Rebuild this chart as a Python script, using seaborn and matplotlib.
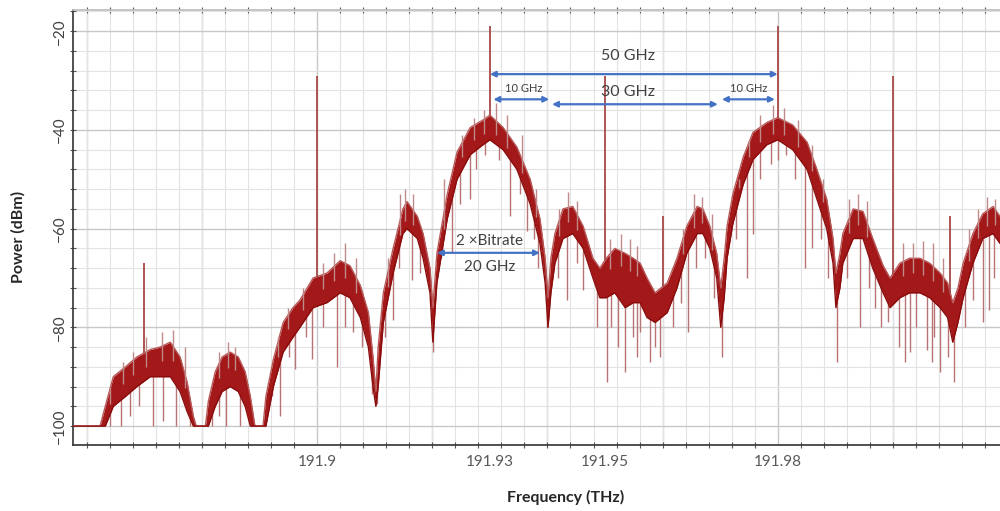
import numpy as np
import pandas as pd
import matplotlib
matplotlib.use("Agg")
import matplotlib.pyplot as plt
from matplotlib.ticker import MultipleLocator
import seaborn as sns

# Optical spectrum of a dual-carrier signal; frequencies are given as
# detuning in GHz from the 191.9 THz reference.
REF_THZ = 191.9

offset_ghz = [-42.4, -37.7, -36.8, -35.4, -33.3, -31.3, -29.0, -27.3, -25.5, -23.8, -22.6, -21.5, -21.0, -19.4,
              -18.9, -17.7, -16.5, -15.1, -13.7, -12.5, -11.6, -10.8, -9.4,
              -8.9, -7.6, -5.9, -4.2, -3.0, -0.7, 1.7, 4.0, 5.7, 7.5, 8.9, 9.7, 10.2,
              10.6, 11.5, 13.2, 14.9, 15.6, 17.4, 18.4, 19.6, 20.1,
              20.8, 22.6, 24.3, 26.6, 28.8, 30.0, 32.3, 34.7, 37.0, 38.7, 39.6, 40.1,
              40.6, 41.3, 42.7, 44.4, 46.2, 47.9, 49.1,
              50.2, 51.7, 53.5, 54.9, 56.1, 57.3,
              58.7, 60.8, 62.5, 64.2, 66.0, 67.0, 68.2, 69.4, 70.1,
              70.7, 71.2, 72.2, 74.0, 75.7, 78.1, 80.0, 82.6, 85.1, 86.8, 88.5, 89.6, 90.1,
              90.8, 91.3, 93.1, 94.8, 96.5, 98.3, 99.5,
              101.2, 102.9, 104.7, 106.4, 108.2, 109.5, 110.4,
              111.3, 112.2, 113.9, 115.6, 117.4, 118.6]

# upper edge of the noisy spectral band (dBm)
band_top_dbm = [-100, -100, -96, -90, -88, -86, -84.5, -84, -83, -86, -91, -98, -100, -100,
                -95, -89, -86, -85, -86, -89, -94, -100, -100,
                -94, -86.5, -79, -76, -74.5, -70, -69, -66.5, -67.5, -71.5, -77, -86, -93,
                -84, -73, -64, -56, -54.5, -57.5, -61, -68, -76,
                -65, -53, -44.5, -39.5, -38, -37, -39.5, -43.5, -50, -58, -66, -74,
                -66, -61, -56, -55.5, -59.5, -66, -68,
                -66, -64, -65, -66, -67, -70,
                -73, -71, -66, -59.5, -55.5, -56, -59.5, -65, -72,
                -66, -59.5, -53, -45.5, -40.5, -38.5, -37.5, -39, -42.5, -48, -54, -62, -69,
                -65, -61, -56, -56.5, -62, -67.5, -70,
                -67, -66, -66, -67, -69, -71, -75,
                -72, -67, -61, -57, -55.5, -57.5]

# lower edge of the noisy spectral band (dBm)
band_floor_dbm = [-100, -100, -100, -96, -94, -92, -90, -90, -90, -93, -97, -100, -100, -100,
                  -100, -96, -93, -92, -93, -96, -100, -100, -100,
                  -100, -92, -85, -82, -80, -76, -75, -73, -74, -78, -84, -92, -96,
                  -92, -79, -69, -61, -60, -62, -66, -73, -83,
                  -71, -58, -50, -45, -43, -42, -44, -48, -55, -63, -71, -80,
                  -73, -67, -62, -61, -64, -70, -74,
                  -74, -73, -76, -75, -75, -78,
                  -79, -77, -72, -65, -61, -61, -64, -70, -80,
                  -74, -66, -59, -51, -46, -43, -42, -44, -48, -54, -60, -67, -76,
                  -72, -67, -62, -62, -68, -73, -76,
                  -74, -73, -73, -74, -76, -78, -83,
                  -79, -74, -67, -62, -61, -63]

# deep spectral notches below the band
notch_offset_ghz = [-35.9, -34.0, -32.5, -31.0, -28.5, -26.7, -24.5, -22.0,
                    -18.2, -17.0, -15.8, -13.4,
                    -7.8, -6.4, -4.8, -3.8, -2.0, -0.9, 1.0, 3.5, 4.8, 6.3, 7.8, 9.5, 10.4,
                    11.8, 13.2, 14.2, 16.5, 17.8, 20.1,
                    21.6, 23.4, 24.8, 26.6, 27.6, 29.2, 31.6, 33.5, 35.2, 36.5, 37.6, 38.4, 39.9,
                    41.8, 43.4, 45.2, 46.2, 48.6,
                    50.3, 51.0, 52.3, 53.5, 54.9, 55.5, 56.1, 57.8, 58.6, 59.5,
                    61.8, 63.2, 64.4, 65.8, 67.4, 69.0, 70.3,
                    72.8, 74.7, 75.7, 77.0, 78.8, 80.0, 81.4, 83.0, 84.7, 85.9, 87.5, 88.8, 90.3,
                    92.0, 94.3, 95.8, 96.9, 98.0, 99.1,
                    101.0, 102.1, 103.0, 104.0, 105.9, 106.8, 107.1, 108.2, 109.5, 110.6,
                    112.6, 113.9, 115.6, 116.7, 117.6]
notch_dbm = [-100, -100, -98, -96, -100, -99, -100, -100,
             -100, -98, -100, -100,
             -94, -98, -86, -88.5, -82, -86.5, -80, -88, -80, -81, -84, -93.5, -95.5,
             -82, -78.5, -68, -70.5, -69, -85,
             -66, -65, -55, -54, -48, -45, -46, -57.5, -53, -60.5, -62, -68, -80,
             -70, -74.5, -67, -72.5, -80,
             -91, -80, -84, -89, -82, -86, -81, -87, -84, -86,
             -80, -75, -81, -68, -66, -74, -86,
             -62, -70, -61, -50, -47, -46, -45, -50, -68, -64, -62, -70, -87,
             -70, -80, -72, -76, -80, -79,
             -84, -87, -85, -80, -84.5, -87, -82, -89, -86, -91,
             -80, -74.5, -79, -76.5, -70]

# short noise spikes rising above the band (dBm)
hair_offset_ghz = [-36.0, -33.8, -32.0, -29.7, -27.0, -25.0, -23.0,
                   -17.0, -15.5, -14.2,
                   -6.8, -5.0, -2.5, 1.0, 3.0, 4.8, 6.8,
                   12.3, 14.4, 15.2, 16.6,
                   22.0, 25.2, 27.2, 29.0, 31.0, 33.0, 35.5, 38.0,
                   42.0, 43.6, 45.2,
                   50.8, 52.8, 54.4, 55.6,
                   63.5, 65.4, 66.8, 68.6,
                   73.2, 75.0, 77.0, 79.2, 81.0, 83.6, 86.0, 87.8,
                   92.4, 94.0, 95.5,
                   101.8, 103.5, 105.2, 107.0, 108.7,
                   113.2, 114.8, 116.3, 117.8]
hair_dbm = [-92, -87, -85, -82, -81, -80.5, -84,
            -85, -83, -84,
            -82, -76, -72, -67, -65, -63, -66,
            -66, -53, -52, -53,
            -50, -41, -37.5, -36, -34.5, -37, -41, -52,
            -56, -52.5, -54.5,
            -62, -61, -62, -63.5,
            -60, -53, -53.5, -57,
            -50, -42, -37, -35, -35.5, -38, -43, -50,
            -54, -53, -54.5,
            -63, -63, -62.5, -63, -66,
            -60, -56, -53.5, -54]

# discrete spectral lines (carriers and tones)
tone_offset_ghz = [-30, 0, 30, 50, 60, 80, 100, 110]
tone_dbm = [-67, -29, -19, -29, -57.5, -19, -29, -57.5]

tick_thz = [191.9, 191.93, 191.95, 191.98]
tick_labels = ["191.9", "191.93", "191.95", "191.98"]
ytick_dbm = [-20, -40, -60, -80, -100]

# spacing annotations: start/end detuning (GHz) and level (dBm)
span_start_ghz = [30.0, 30.6, 40.8, 70.3, 20.8]
span_end_ghz = [80.0, 40.3, 69.6, 79.5, 38.7]
span_dbm = [-28.7, -33.8, -34.8, -33.8, -64.9]


def to_thz(ghz):
    return REF_THZ + np.asarray(ghz, dtype=float) / 1000.0


spec = pd.DataFrame({
    "freq": to_thz(offset_ghz),
    "top": band_top_dbm,
    "floor": band_floor_dbm,
})

sns.set_theme(style="white")
plt.rcParams["font.family"] = ["Lato", "DejaVu Sans"]

fig = plt.figure(figsize=(10, 5.11), dpi=100)
ax = fig.add_axes([0.073, 0.129, 0.927, 0.851])

x_lo, x_hi = 191.8576, 192.0186
y_lo, y_hi = -103.85, -15.75
ax.set_xlim(x_lo, x_hi)
ax.set_ylim(y_lo, y_hi)

# grid: fine every 4 GHz / 4 dB, heavier every 20 GHz / 20 dB
ax.xaxis.set_minor_locator(MultipleLocator(0.004))
ax.yaxis.set_minor_locator(MultipleLocator(4))
ax.set_xticks(tick_thz)
ax.set_xticklabels(tick_labels)
ax.set_yticks(ytick_dbm)
ax.grid(which="minor", color="#e3e3e3", lw=0.8, zorder=0)
ax.grid(which="major", axis="y", color="#c8c8c8", lw=1.0, zorder=0)
for v in np.arange(191.86, 192.02, 0.02):
    ax.axvline(v, color="#c8c8c8", lw=1.0, zorder=0.5)

# notches below the band
nf = to_thz(notch_offset_ghz)
nd = np.asarray(notch_dbm, dtype=float)
n_top = np.interp(nf, spec["freq"], spec["floor"]) + 3
ax.vlines(nf, nd, np.maximum(n_top, nd), color="#b87474", lw=1.0, zorder=2)

# noisy band
ax.fill_between(spec["freq"], spec["floor"], spec["top"], color="#a31818", lw=0, zorder=3)
sns.lineplot(data=spec, x="freq", y="top", ax=ax, color="#b85a5a", lw=1.0, zorder=3.5, sort=False)
sns.lineplot(data=spec, x="freq", y="floor", ax=ax, color="#8a0c0c", lw=1.0, zorder=3.5, sort=False)

# noise spikes above the band
hf = to_thz(hair_offset_ghz)
hd = np.asarray(hair_dbm, dtype=float)
h_base = np.interp(hf, spec["freq"], spec["top"]) - 3
ax.vlines(hf, np.minimum(h_base, hd), hd, color="#c08a8a", lw=1.0, zorder=3.6)

# spectral lines
tf = to_thz(tone_offset_ghz)
t_base = np.interp(tf, spec["freq"], spec["top"])
ax.vlines(tf, t_base, tone_dbm, color="#a84848", lw=1.3, zorder=4)

# spacing arrows and labels
arrow_color = "#4472c4"
for s, e, lvl in zip(span_start_ghz, span_end_ghz, span_dbm):
    ax.annotate("", xy=(to_thz(e), lvl), xytext=(to_thz(s), lvl),
                arrowprops=dict(arrowstyle="<|-|>", color=arrow_color, lw=1.6,
                                mutation_scale=8, shrinkA=0, shrinkB=0),
                zorder=6)

txt = dict(ha="center", va="center", color="#404040", zorder=7)
ax.text(to_thz(54.0), -25.1, "50 GHz", fontsize=11.5, **txt)
ax.text(to_thz(54.0), -32.3, "30 GHz", fontsize=11.5, **txt)
ax.text(to_thz(35.8), -31.6, "10 GHz", fontsize=8, **txt)
ax.text(to_thz(74.9), -31.6, "10 GHz", fontsize=8, **txt)
ax.text(to_thz(30.0), -62.5, "2 \u00d7Bitrate", fontsize=11, **txt)
ax.text(to_thz(30.0), -67.8, "20 GHz", fontsize=11, **txt)

# axes styling
ax.spines["right"].set_visible(False)
ax.spines["left"].set_color("#3a3a3a")
ax.spines["bottom"].set_color("#3a3a3a")
ax.spines["top"].set_color("#bdbdbd")
ax.tick_params(axis="x", which="major", length=0, labelsize=11, labelcolor="#595959", pad=7)
ax.tick_params(axis="x", which="minor", direction="inout", length=5, color="#555555",
               bottom=True, top=True, width=0.8)
ax.tick_params(axis="y", which="both", direction="inout", length=5, color="#555555",
               left=True, width=0.8)
ax.tick_params(axis="y", which="major", labelsize=11, labelcolor="#404040", pad=2)
for lab in ax.get_yticklabels():
    lab.set_rotation(90)
    lab.set_va("center")
ax.set_xlabel("")
ax.set_ylabel("")

fig.text(0.566, 1 - 497 / 511, "Frequency (THz)", ha="center", va="center",
         fontsize=11.5, fontweight="bold", color="#262626")
fig.text(0.018, 1 - 237 / 511, "Power (dBm)", ha="center", va="center", rotation=90,
         fontsize=11.5, fontweight="bold", color="#262626")

fig.savefig("out.png", dpi=100, facecolor="white")
